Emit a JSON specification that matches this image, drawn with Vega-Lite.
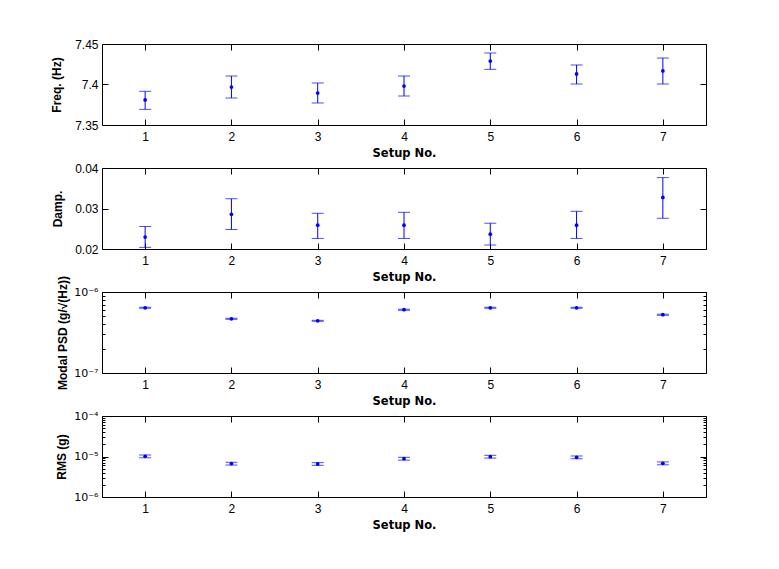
{
  "$schema": "https://vega.github.io/schema/vega-lite/v6.json",
  "background": "white",
  "padding": {"top": 37, "left": 50, "right": 10, "bottom": 10},
  "bounds": "flush",
  "spacing": 43,
  "datasets": {
    "pts": [
      {"metric": "freq", "setup": 1, "value": 7.381, "lo": 7.3693, "hi": 7.3916},
      {"metric": "freq", "setup": 2, "value": 7.3969, "lo": 7.3833, "hi": 7.4105},
      {"metric": "freq", "setup": 3, "value": 7.3895, "lo": 7.3772, "hi": 7.4019},
      {"metric": "freq", "setup": 4, "value": 7.3981, "lo": 7.3858, "hi": 7.4105},
      {"metric": "freq", "setup": 5, "value": 7.429, "lo": 7.4187, "hi": 7.4389},
      {"metric": "freq", "setup": 6, "value": 7.413, "lo": 7.4006, "hi": 7.4241},
      {"metric": "freq", "setup": 7, "value": 7.4167, "lo": 7.4006, "hi": 7.4327},
      {"metric": "damp", "setup": 1, "value": 0.02294, "lo": 0.02041, "hi": 0.02555},
      {"metric": "damp", "setup": 2, "value": 0.02857, "lo": 0.02482, "hi": 0.03241},
      {"metric": "damp", "setup": 3, "value": 0.02588, "lo": 0.02261, "hi": 0.02882},
      {"metric": "damp", "setup": 4, "value": 0.02588, "lo": 0.02261, "hi": 0.02906},
      {"metric": "damp", "setup": 5, "value": 0.02367, "lo": 0.02098, "hi": 0.02637},
      {"metric": "damp", "setup": 6, "value": 0.02588, "lo": 0.02261, "hi": 0.02931},
      {"metric": "damp", "setup": 7, "value": 0.03273, "lo": 0.02759, "hi": 0.03763},
      {"metric": "psd", "setup": 1, "value": 6.39e-7, "lo": 6.3e-7, "hi": 6.48e-7},
      {"metric": "psd", "setup": 2, "value": 4.67e-7, "lo": 4.6e-7, "hi": 4.74e-7},
      {"metric": "psd", "setup": 3, "value": 4.41e-7, "lo": 4.35e-7, "hi": 4.47e-7},
      {"metric": "psd", "setup": 4, "value": 6.04e-7, "lo": 5.95e-7, "hi": 6.13e-7},
      {"metric": "psd", "setup": 5, "value": 6.39e-7, "lo": 6.3e-7, "hi": 6.48e-7},
      {"metric": "psd", "setup": 6, "value": 6.39e-7, "lo": 6.3e-7, "hi": 6.48e-7},
      {"metric": "psd", "setup": 7, "value": 5.24e-7, "lo": 5.16e-7, "hi": 5.32e-7},
      {"metric": "rms", "setup": 1, "value": 1.01e-5, "lo": 9.3e-6, "hi": 1.09e-5},
      {"metric": "rms", "setup": 2, "value": 6.67e-6, "lo": 6.15e-6, "hi": 7.2e-6},
      {"metric": "rms", "setup": 3, "value": 6.55e-6, "lo": 6.05e-6, "hi": 7.05e-6},
      {"metric": "rms", "setup": 4, "value": 8.85e-6, "lo": 8.15e-6, "hi": 9.55e-6},
      {"metric": "rms", "setup": 5, "value": 9.9e-6, "lo": 9.15e-6, "hi": 1.07e-5},
      {"metric": "rms", "setup": 6, "value": 9.55e-6, "lo": 8.8e-6, "hi": 1.03e-5},
      {"metric": "rms", "setup": 7, "value": 6.8e-6, "lo": 6.25e-6, "hi": 7.35e-6}
    ]
  },
  "vconcat": [
    {
      "data": {"name": "pts"},
      "transform": [{"filter": "datum.metric == 'freq'"}],
      "width": 604, "height": 81,
      "resolve": {"axis": {"x": "independent", "y": "independent"}},
      "layer": [
        {"mark": {"type": "rule", "color": "#0000ff", "strokeWidth": 1},
         "encoding": {
           "x": {"field": "setup", "type": "quantitative", "scale": {"domain": [0.5, 7.5], "nice": false, "zero": false}, "axis": {"values": [1,2,3,4,5,6,7], "title": "Setup No."}},
           "y": {"field": "lo", "type": "quantitative", "scale": {"domain": [7.35, 7.45], "nice": false, "zero": false}, "axis": {"values": [7.35, 7.4, 7.45], "format": "~g", "title": "Freq. (Hz)", "titlePadding": 11}},
           "y2": {"field": "hi"}}},
        {"mark": {"type": "tick", "orient": "horizontal", "color": "#0000ff", "size": 12, "thickness": 1},
         "encoding": {"x": {"field": "setup", "type": "quantitative", "axis": null}, "y": {"field": "lo", "type": "quantitative", "axis": null}}},
        {"mark": {"type": "tick", "orient": "horizontal", "color": "#0000ff", "size": 12, "thickness": 1},
         "encoding": {"x": {"field": "setup", "type": "quantitative", "axis": null}, "y": {"field": "hi", "type": "quantitative", "axis": null}}},
        {"mark": {"type": "point", "filled": true, "color": "#0000ff", "size": 14, "opacity": 1},
         "encoding": {
           "x": {"field": "setup", "type": "quantitative", "axis": {"orient": "top", "values": [1,2,3,4,5,6,7], "labels": false, "title": null}},
           "y": {"field": "value", "type": "quantitative", "axis": {"orient": "right", "values": [7.35, 7.4, 7.45], "labels": false, "title": null}}}}
      ]
    },
    {
      "data": {"name": "pts"},
      "transform": [{"filter": "datum.metric == 'damp'"}],
      "width": 604, "height": 81,
      "resolve": {"axis": {"x": "independent", "y": "independent"}},
      "layer": [
        {"mark": {"type": "rule", "color": "#0000ff", "strokeWidth": 1},
         "encoding": {
           "x": {"field": "setup", "type": "quantitative", "scale": {"domain": [0.5, 7.5], "nice": false, "zero": false}, "axis": {"values": [1,2,3,4,5,6,7], "title": "Setup No."}},
           "y": {"field": "lo", "type": "quantitative", "scale": {"domain": [0.02, 0.04], "nice": false, "zero": false}, "axis": {"values": [0.02, 0.03, 0.04], "format": "~g", "title": "Damp.", "titlePadding": 10}},
           "y2": {"field": "hi"}}},
        {"mark": {"type": "tick", "orient": "horizontal", "color": "#0000ff", "size": 12, "thickness": 1},
         "encoding": {"x": {"field": "setup", "type": "quantitative", "axis": null}, "y": {"field": "lo", "type": "quantitative", "axis": null}}},
        {"mark": {"type": "tick", "orient": "horizontal", "color": "#0000ff", "size": 12, "thickness": 1},
         "encoding": {"x": {"field": "setup", "type": "quantitative", "axis": null}, "y": {"field": "hi", "type": "quantitative", "axis": null}}},
        {"mark": {"type": "point", "filled": true, "color": "#0000ff", "size": 14, "opacity": 1},
         "encoding": {
           "x": {"field": "setup", "type": "quantitative", "axis": {"orient": "top", "values": [1,2,3,4,5,6,7], "labels": false, "title": null}},
           "y": {"field": "value", "type": "quantitative", "axis": {"orient": "right", "values": [0.02, 0.03, 0.04], "labels": false, "title": null}}}}
      ]
    },
    {
      "data": {"name": "pts"},
      "transform": [{"filter": "datum.metric == 'psd'"}],
      "width": 604, "height": 81,
      "resolve": {"axis": {"x": "independent", "y": "independent"}},
      "layer": [
        {"mark": {"type": "rule", "color": "#0000ff", "strokeWidth": 1},
         "encoding": {
           "x": {"field": "setup", "type": "quantitative", "scale": {"domain": [0.5, 7.5], "nice": false, "zero": false}, "axis": {"values": [1,2,3,4,5,6,7], "title": "Setup No."}},
           "y": {"field": "lo", "type": "quantitative", "scale": {"type": "log", "domain": [1e-7, 1e-6], "nice": false}, "axis": {"values": [1e-7, 2e-7, 3e-7, 4e-7, 5e-7, 6e-7, 7e-7, 8e-7, 9e-7, 1e-6], "labelExpr": "datum.value < 1.5e-7 ? '10⁻⁷' : (datum.value > 9.5e-7 ? '10⁻⁶' : '')", "labelFont": "DejaVu Sans", "labelFontSize": 11, "tickSize": {"condition": {"test": "datum.value < 1.5e-7 || datum.value > 9.5e-7", "value": -6}, "value": -3}, "title": "Modal PSD (g/√(Hz))", "titlePadding": 4}},
           "y2": {"field": "hi"}}},
        {"mark": {"type": "tick", "orient": "horizontal", "color": "#0000ff", "size": 12, "thickness": 1},
         "encoding": {"x": {"field": "setup", "type": "quantitative", "axis": null}, "y": {"field": "lo", "type": "quantitative", "axis": null}}},
        {"mark": {"type": "tick", "orient": "horizontal", "color": "#0000ff", "size": 12, "thickness": 1},
         "encoding": {"x": {"field": "setup", "type": "quantitative", "axis": null}, "y": {"field": "hi", "type": "quantitative", "axis": null}}},
        {"mark": {"type": "point", "filled": true, "color": "#0000ff", "size": 14, "opacity": 1},
         "encoding": {
           "x": {"field": "setup", "type": "quantitative", "axis": {"orient": "top", "values": [1,2,3,4,5,6,7], "labels": false, "title": null}},
           "y": {"field": "value", "type": "quantitative", "axis": {"orient": "right", "values": [1e-7, 2e-7, 3e-7, 4e-7, 5e-7, 6e-7, 7e-7, 8e-7, 9e-7, 1e-6], "tickSize": {"condition": {"test": "datum.value < 1.5e-7 || datum.value > 9.5e-7", "value": -6}, "value": -3}, "labels": false, "title": null}}}}
      ]
    },
    {
      "data": {"name": "pts"},
      "transform": [{"filter": "datum.metric == 'rms'"}],
      "width": 604, "height": 81,
      "resolve": {"axis": {"x": "independent", "y": "independent"}},
      "layer": [
        {"mark": {"type": "rule", "color": "#0000ff", "strokeWidth": 1},
         "encoding": {
           "x": {"field": "setup", "type": "quantitative", "scale": {"domain": [0.5, 7.5], "nice": false, "zero": false}, "axis": {"values": [1,2,3,4,5,6,7], "title": "Setup No."}},
           "y": {"field": "lo", "type": "quantitative", "scale": {"type": "log", "domain": [1e-6, 1e-4], "nice": false}, "axis": {"values": [1e-6, 2e-6, 3e-6, 4e-6, 5e-6, 6e-6, 7e-6, 8e-6, 9e-6, 1e-5, 2e-5, 3e-5, 4e-5, 5e-5, 6e-5, 7e-5, 8e-5, 9e-5, 1e-4], "labelExpr": "datum.value < 1.5e-6 ? '10⁻⁶' : (abs(datum.value - 1e-5) < 1e-7 ? '10⁻⁵' : (datum.value > 9.5e-5 ? '10⁻⁴' : ''))", "labelFont": "DejaVu Sans", "labelFontSize": 11, "tickSize": {"condition": {"test": "datum.value < 1.5e-6 || abs(datum.value - 1e-5) < 1e-7 || datum.value > 9.5e-5", "value": -6}, "value": -3}, "title": "RMS (g)", "titlePadding": 5}},
           "y2": {"field": "hi"}}},
        {"mark": {"type": "tick", "orient": "horizontal", "color": "#0000ff", "size": 12, "thickness": 1},
         "encoding": {"x": {"field": "setup", "type": "quantitative", "axis": null}, "y": {"field": "lo", "type": "quantitative", "axis": null}}},
        {"mark": {"type": "tick", "orient": "horizontal", "color": "#0000ff", "size": 12, "thickness": 1},
         "encoding": {"x": {"field": "setup", "type": "quantitative", "axis": null}, "y": {"field": "hi", "type": "quantitative", "axis": null}}},
        {"mark": {"type": "point", "filled": true, "color": "#0000ff", "size": 14, "opacity": 1},
         "encoding": {
           "x": {"field": "setup", "type": "quantitative", "axis": {"orient": "top", "values": [1,2,3,4,5,6,7], "labels": false, "title": null}},
           "y": {"field": "value", "type": "quantitative", "axis": {"orient": "right", "values": [1e-6, 2e-6, 3e-6, 4e-6, 5e-6, 6e-6, 7e-6, 8e-6, 9e-6, 1e-5, 2e-5, 3e-5, 4e-5, 5e-5, 6e-5, 7e-5, 8e-5, 9e-5, 1e-4], "tickSize": {"condition": {"test": "datum.value < 1.5e-6 || abs(datum.value - 1e-5) < 1e-7 || datum.value > 9.5e-5", "value": -6}, "value": -3}, "labels": false, "title": null}}}}
      ]
    }
  ],
  "config": {
    "view": {"stroke": "black", "strokeWidth": 1},
    "axis": {
      "grid": false,
      "domain": false,
      "tickColor": "black",
      "tickSize": -6,
      "tickWidth": 1,
      "labelColor": "black",
      "labelFont": "Liberation Sans",
      "labelFontSize": 12,
      "labelPadding": 10,
      "titleColor": "black",
      "titleFont": "Liberation Sans",
      "titleFontSize": 12,
      "titleFontWeight": "bold",
      "titlePadding": 7
    },
    "axisX": {"labelPadding": 12, "titlePadding": 5, "titleFont": "DejaVu Sans", "titleFontSize": 11.5}
  }
}
